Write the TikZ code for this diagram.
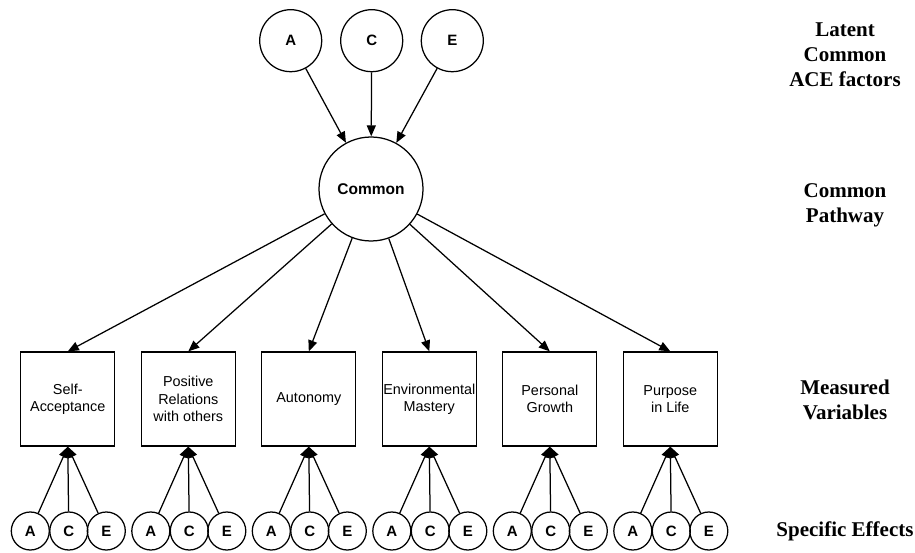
\documentclass[tikz,border=0pt]{standalone}
\usepackage{fontspec}
\setmainfont{Liberation Serif}
\setsansfont{Liberation Sans}
\usetikzlibrary{arrows.meta}
\begin{document}
\begin{tikzpicture}[x=1pt,y=-1pt,
  lat/.style={circle,draw,line width=1.25pt,inner sep=0pt,minimum size=62pt,font=\sffamily\bfseries\fontsize{15}{18}\selectfont},
  com/.style={circle,draw,line width=1.25pt,inner sep=0pt,minimum size=104pt,font=\sffamily\bfseries\fontsize{15.5}{18}\selectfont},
  spec/.style={circle,draw,line width=1.25pt,inner sep=0pt,minimum size=38pt,font=\sffamily\bfseries\fontsize{15}{18}\selectfont},
  mbox/.style={rectangle,draw,line width=1.25pt,inner sep=0pt,minimum width=94pt,minimum height=94pt,align=center,font=\sffamily\fontsize{14.4}{17.3}\selectfont},
  side/.style={align=center,font=\rmfamily\bfseries\fontsize{21}{25}\selectfont},
  arr/.style={line width=1.25pt,-{Triangle[length=11pt,width=9pt]}}
]
\useasboundingbox (0,0) rectangle (915,553);
\node[lat] (tA) at (290.7,40.7) {A};
\node[lat] (tC) at (371.7,40.7) {C};
\node[lat] (tE) at (452.3,40.7) {E};
\node[com] (common) at (371,189) {Common};
\draw[arr] (tA) -- (common);
\draw[arr] (tC) -- (common);
\draw[arr] (tE) -- (common);

\node[mbox] (m1) at (67.8,399) {Self-\\Acceptance};
\node[mbox] (m2) at (188.3,399) {Positive\\Relations\\with others};
\node[mbox] (m3) at (308.8,399) {Autonomy};
\node[mbox] (m4) at (429.3,399) {Environmental\\Mastery};
\node[mbox] (m5) at (549.8,399) {Personal\\Growth};
\node[mbox] (m6) at (670.3,399) {Purpose\\in Life};

\foreach \i/\x in {1/67.8,2/188.3,3/308.8,4/429.3,5/549.8,6/670.3}{
  \draw[arr] (common) -- (m\i.north);
  \node[spec] (a\i) at (\x-37.5,531) {A};
  \node[spec] (c\i) at (\x+1,531) {C};
  \node[spec] (e\i) at (\x+38.5,531) {E};
  \draw[arr] (a\i) -- (m\i.south);
  \draw[arr] (c\i) -- (m\i.south);
  \draw[arr] (e\i) -- (m\i.south);
}

\node[side] (l1) at (845,55) {Latent\\Common\\ACE factors};
\node[side] (l2) at (845,205.5) {Common\\Pathway};
\node[side] (l3) at (845,399.5) {Measured\\Variables};
\node[side] (l4) at (845,531.5) {Specific Effects};
\end{tikzpicture}
\end{document}
